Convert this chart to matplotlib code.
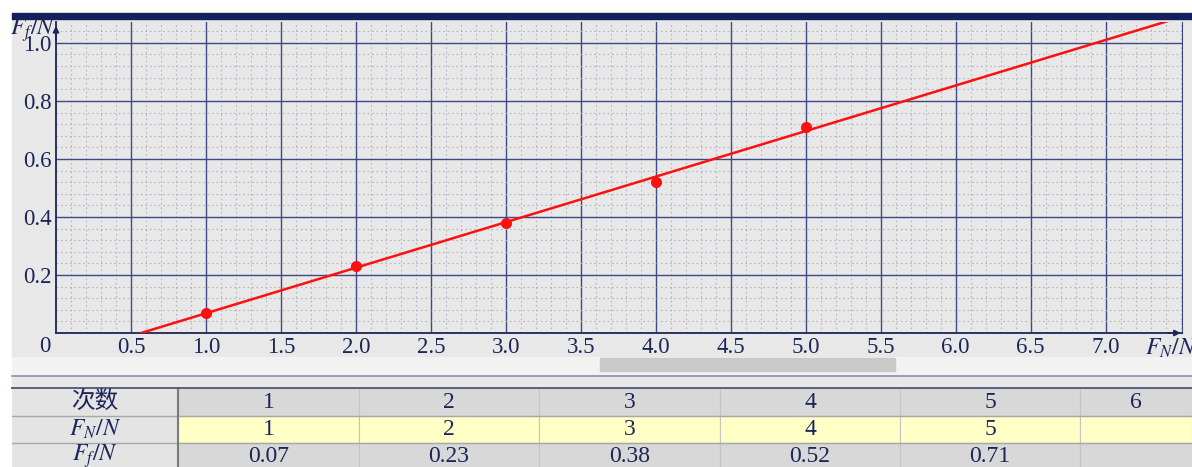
import matplotlib
matplotlib.use("Agg")
import matplotlib.pyplot as plt
import numpy as np
from matplotlib.patches import Rectangle
from matplotlib.ticker import MultipleLocator

plt.rcParams["mathtext.fontset"] = "stix"

# data
trials = [1, 2, 3, 4, 5, 6]
fn = [1, 2, 3, 4, 5]
ff = [0.07, 0.23, 0.38, 0.52, 0.71]
fn_labels = ["1", "2", "3", "4", "5", ""]
ff_labels = ["0.07", "0.23", "0.38", "0.52", "0.71", ""]
xticks = [0.5, 1.0, 1.5, 2.0, 2.5, 3.0, 3.5, 4.0, 4.5, 5.0, 5.5, 6.0, 6.5, 7.0]
yticks = [0.2, 0.4, 0.6, 0.8, 1.0]

navy = "#1b2558"
grid_c = "#3d4a86"
serif = ["Liberation Serif", "Noto Sans CJK SC"]

W, H = 1192, 467
fig = plt.figure(figsize=(W / 100, H / 100), dpi=100)
fig.patch.set_facecolor("white")

def fx(px):
    return px / W

def fy(py):
    return 1 - py / H

# background panels / bars
fig.patches.append(Rectangle((fx(12), fy(357)), fx(W - 12), fy(19) - fy(357),
                             transform=fig.transFigure, color="#e8e8e8", zorder=0))
fig.patches.append(Rectangle((fx(12), fy(19)), fx(W - 12), fy(13) - fy(19),
                             transform=fig.transFigure, color="#14205c", zorder=1))
fig.patches.append(Rectangle((fx(12), fy(374)), fx(W - 12), fy(357) - fy(374),
                             transform=fig.transFigure, color="#f2f2f2", zorder=0))
fig.patches.append(Rectangle((fx(600), fy(371)), fx(295), fy(358) - fy(371),
                             transform=fig.transFigure, color="#c9c9c9", zorder=1))
fig.patches.append(Rectangle((fx(12), fy(388)), fx(W - 12), fy(376) - fy(388),
                             transform=fig.transFigure, color="#e8e8e8", zorder=0))
fig.lines.append(plt.Line2D([fx(12), 1], [fy(376), fy(376)], transform=fig.transFigure,
                            color="#8a90a8", lw=1.2))

# main plot
ax = fig.add_axes([fx(56), fy(333), fx(1182 - 56), fy(22) - fy(333)])
ax.set_zorder(5)
ax.set_facecolor("#e8e8e8")
ax.set_xlim(0, 7.51)
ax.set_ylim(0, 1.072)
ax.xaxis.set_minor_locator(MultipleLocator(0.1))
ax.yaxis.set_minor_locator(MultipleLocator(0.04))
ax.set_xticks(xticks)
ax.set_xticklabels(["%.1f" % v for v in xticks])
ax.set_yticks(yticks)
ax.set_yticklabels(["%.1f" % v for v in yticks])
ax.grid(which="major", color=grid_c, lw=1.0)
ax.grid(which="minor", color="#b4b6be", lw=0.8, ls=(0, (1.5, 2.5)))
ax.set_axisbelow(True)
ax.tick_params(which="both", length=0, colors=navy, labelsize=16.5, pad=3)
for lab in ax.get_xticklabels() + ax.get_yticklabels():
    lab.set_family(serif)
ax.spines["top"].set_visible(False)
ax.spines["right"].set_color(grid_c)
ax.spines["left"].set_color(navy)
ax.spines["bottom"].set_color(navy)
ax.spines["left"].set_linewidth(1.3)
ax.spines["bottom"].set_linewidth(1.3)

# fitted line and points
k, b = np.polyfit(fn, ff, 1)
xs = np.array([-b / k, 8.0])
ax.plot(xs, k * xs + b, color="#ff1010", lw=1.8, zorder=3)
ax.plot(fn, ff, "o", color="#ff1010", ms=7, zorder=4)

# axis arrows
ax.annotate("", xy=(0, 1.068), xytext=(0, 1.0), xycoords="data",
            arrowprops=dict(arrowstyle="-|>", color=navy, lw=1.2, mutation_scale=9),
            annotation_clip=False)
ax.annotate("", xy=(7.52, 0), xytext=(7.4, 0), xycoords="data",
            arrowprops=dict(arrowstyle="-|>", color=navy, lw=1.2, mutation_scale=9),
            annotation_clip=False)

fig.text(fx(45), fy(347), "0", ha="center", va="center", fontsize=16.5, color=navy, family=serif)
fig.text(fx(10), fy(30), r"$F_f/N$", ha="left", va="center", fontsize=17, color=navy)
fig.text(fx(1145), fy(348), r"$F_N/N$", ha="left", va="center", fontsize=17, color=navy)

# table
col_edges = [12, 178, 359, 539, 720, 900, 1080, 1192]
row_edges = [388, 416, 443, 470]
row_heads = ["次数", r"$F_N/N$", r"$F_f/N$"]
rows = [[str(t) for t in trials], fn_labels, ff_labels]
row_fill = ["#d8d8d8", "#ffffc6", "#d8d8d8"]
for r in range(3):
    y0, y1 = row_edges[r], row_edges[r + 1]
    fig.patches.append(Rectangle((fx(12), fy(y1)), fx(166), fy(y0) - fy(y1),
                                 transform=fig.transFigure, facecolor="#e4e4e4",
                                 edgecolor="none", zorder=1))
    fig.text(fx(95), fy((y0 + y1) / 2), row_heads[r], ha="center", va="center",
             fontsize=17, color=navy, family=serif)
    for c in range(6):
        x0, x1 = col_edges[c + 1], col_edges[c + 2]
        fig.patches.append(Rectangle((fx(x0), fy(y1)), fx(x1 - x0), fy(y0) - fy(y1),
                                     transform=fig.transFigure, facecolor=row_fill[r],
                                     edgecolor="#c4c4c4", lw=0.8, zorder=1))
        fig.text(fx((x0 + x1) / 2), fy((y0 + y1) / 2), rows[r][c], ha="center", va="center",
                 fontsize=17, color=navy, family=serif)
for y in row_edges[1:3]:
    fig.lines.append(plt.Line2D([fx(12), 1], [fy(y), fy(y)], transform=fig.transFigure,
                                color="#a8a8a8", lw=1.0, zorder=2))
fig.lines.append(plt.Line2D([fx(178), fx(178)], [fy(388), 0], transform=fig.transFigure,
                            color="#7a7a7a", lw=1.5, zorder=2))
fig.lines.append(plt.Line2D([fx(12), 1], [fy(388), fy(388)], transform=fig.transFigure,
                            color="#5a6080", lw=1.4, zorder=2))

fig.savefig("out.png", dpi=100, facecolor=fig.get_facecolor())
